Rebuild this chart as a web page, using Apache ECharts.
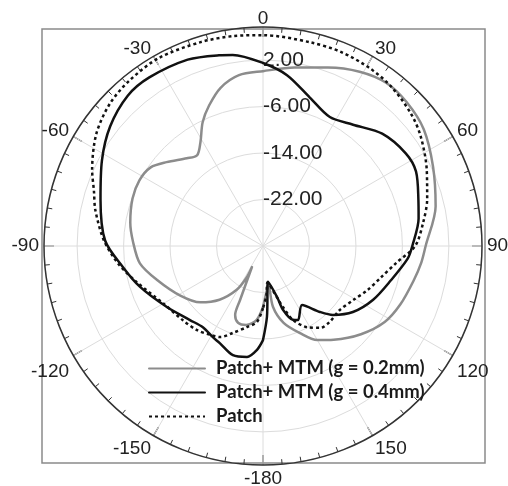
<!DOCTYPE html>
<html>
<head>
<meta charset="utf-8">
<script src="https://cdn.jsdelivr.net/npm/echarts@6.0.0/dist/echarts.min.js"></script>
<style>
  html, body { margin: 0; padding: 0; background: #fff; }
  #chart { width: 508px; height: 486px; }
</style>
</head>
<body>
<div id="chart"></div>
<script>
// radiation pattern: gain (dB) against angle (deg), 0 at top, clockwise
const names = ["Patch+ MTM (g = 0.2mm)", "Patch+ MTM (g = 0.4mm)", "Patch"];

const angG02 = [-180, -175, -168, -162, -158, -157, -152.4, -152.7, -149, -141,
  -132, -121, -108, -98, -88, -80, -70, -62, -55, -49,
  -41, -36, -31, -26, -21, -15, -8, 0, 10, 20,
  29, 37, 45, 54, 65, 77, 90, 96, 103, 113,
  122, 132, 143, 150, 157, 165, 170.7, 172, 175, 180];
const dbG02 = [-19.5, -17.2, -16.1, -16.1, -17.2, -19.9, -25.9, -24.0, -21.2, -18.1,
  -15.5, -13.4, -10.9, -8.6, -7.6, -6.8, -6.1, -5.9, -6.4, -8.0,
  -10.0, -10.7, -9.1, -6.3, -4.1, -1.8, -0.3, 0.1, 1.2, 2.7,
  4.3, 5.2, 5.0, 4.2, 2.3, 0.5, -2.0, -2.6, -3.4, -4.3,
  -5.3, -7.3, -9.8, -11.3, -13.7, -16.3, -19.4, -23.6, -22.4, -19.5];

const angG04 = [-180, -176.7, -171.8, -164.6, -156, -151, -143.5, -135.4, -122.4, -108.4,
  -98.5, -88, -74, -62, -52, -42, -34, -22, -13, -9,
  0, 8, 17.5, 27.4, 36.6, 46.7, 57, 64, 73.5, 80,
  90, 95, 105, 116, 126.3, 134.6, 139.2, 146.5, 154.7, 158,
  162.6, 164.6, 172, 176.8, 180];
const dbG04 = [-13.8, -12.1, -10.7, -10.5, -11.7, -12.1, -12.6, -12.1, -10.4, -7.7,
  -5.6, -2.8, -0.9, 1.4, 3.4, 4.8, 5.0, 4.6, 3.7, 3.3,
  1.5, -0.3, -3.2, -5.0, -4.0, -1.8, -0.7, -0.7, -2.1, -2.8,
  -4.3, -5.0, -7.2, -8.9, -10.8, -13.1, -15.0, -17.8, -15.9, -16.3,
  -18.5, -20.9, -23.8, -17.8, -13.8];

const angPatch = [-180, -175.5, -169, -161, -155, -149, -142, -133, -120, -106,
  -97, -88, -78, -72, -66, -56, -47, -39, -29, -17,
  -8, 0, 13, 22, 31, 39, 48, 55, 65, 74,
  82, 90, 97, 105, 113, 121, 130, 139, 145, 151.5,
  158, 162, 166, 173, 176, 180];
const dbPatch = [-19.3, -16.9, -15.8, -14.2, -12.7, -12.2, -11.6, -11.2, -10.2, -7.4,
  -4.9, -2.6, -0.5, 0.6, 2.2, 4.6, 6.0, 6.6, 7.0, 6.7,
  6.5, 6.3, 6.0, 6.0, 5.7, 5.2, 4.2, 3.1, 1.1, -0.6,
  -2.2, -3.8, -6.8, -9.0, -10.5, -11.9, -12.8, -12.6, -12.8, -14.1,
  -16.3, -19.0, -21.5, -23.7, -21.5, -19.3];

const rMin = -30, rMax = 7.7, rStep = 8;
const angleTicks = 30;

function toPolar(angs, dbs) {
  // [radius, angle]; negative angles folded onto 0..360 axis
  return angs.map((a, i) => [dbs[i], a < 0 ? a + 360 : a]);
}

const labelFont = { fontSize: 19, fontFamily: "Liberation Sans", color: "#222" };

const chart = echarts.init(document.getElementById("chart"));

const option = {
  animation: false,
  backgroundColor: "#fff",
  graphic: [{
    type: "rect",
    silent: true,
    z: 0,
    shape: { x: 42, y: 29, width: 443, height: 434 },
    style: { fill: "none", stroke: "#8a8a8a", lineWidth: 1.5 }
  }],
  polar: { center: [263, 246], radius: 219 },
  angleAxis: {
    type: "value",
    min: 0,
    max: 360,
    interval: angleTicks,
    startAngle: 90,
    clockwise: true,
    axisLine: { lineStyle: { color: "#333", width: 1.5 } },
    axisTick: { inside: true, length: 10, lineStyle: { color: "#333", width: 1.2 } },
    minorTick: { show: true, splitNumber: 6, length: 5, lineStyle: { color: "#333", width: 1 } },
    axisLabel: {
      margin: 5,
      fontSize: 19,
      fontFamily: "Liberation Sans",
      color: "#222",
      formatter: function (v) {
        if (v >= 360) return "";
        const txt = String(v >= 180 ? v - 360 : v);
        // upper labels sit a little lower, like the original plot
        if (v <= 60 || v >= 300) return "{u|" + txt + "}";
        if (v === 120 || v === 240) return "{l|" + txt + "}";
        return "{n|" + txt + "}";
      },
      rich: {
        u: Object.assign({ lineHeight: 6 }, labelFont),
        l: Object.assign({ lineHeight: 27 }, labelFont),
        n: Object.assign({ lineHeight: 17 }, labelFont)
      }
    },
    splitLine: { lineStyle: { color: "#dcdcdc", width: 1 } }
  },
  radiusAxis: {
    type: "value",
    min: rMin,
    max: rMax,
    interval: rStep,
    axisLine: { show: false },
    axisTick: { show: false },
    axisLabel: {
      margin: 0,
      align: "left",
      verticalAlign: "middle",
      fontSize: 21,
      fontFamily: "Liberation Sans",
      color: "#222",
      formatter: function (v) {
        if (v <= rMin || v > 2.5) return "";
        return v.toFixed(2);
      }
    },
    splitLine: { lineStyle: { color: "#dcdcdc", width: 1 } }
  },
  legend: {
    orient: "vertical",
    left: 148,
    top: 359,
    padding: 0,
    itemWidth: 56,
    itemHeight: 14,
    itemGap: 5,
    itemStyle: { opacity: 0 },
    textStyle: {
      fontFamily: "Lato",
      fontWeight: "bold",
      fontSize: 18.5,
      lineHeight: 18,
      color: "#1a1a1a",
      padding: [0, 0, 0, 6]
    },
    data: names
  },
  series: [
    {
      name: names[0],
      type: "line",
      coordinateSystem: "polar",
      symbol: "none",
      smooth: 0.3,
      color: "#8c8c8c",
      lineStyle: { color: "#8c8c8c", width: 2.5, cap: "round", join: "round" },
      data: toPolar(angG02, dbG02)
    },
    {
      name: names[1],
      type: "line",
      coordinateSystem: "polar",
      symbol: "none",
      smooth: 0.3,
      color: "#111",
      lineStyle: { color: "#111", width: 2.5, cap: "round", join: "round" },
      data: toPolar(angG04, dbG04)
    },
    {
      name: names[2],
      type: "line",
      coordinateSystem: "polar",
      symbol: "none",
      smooth: 0.3,
      color: "#111",
      lineStyle: { color: "#111", width: 2.5, type: [3, 3] },
      data: toPolar(angPatch, dbPatch)
    }
  ]
};

chart.setOption(option);
</script>
</body>
</html>
